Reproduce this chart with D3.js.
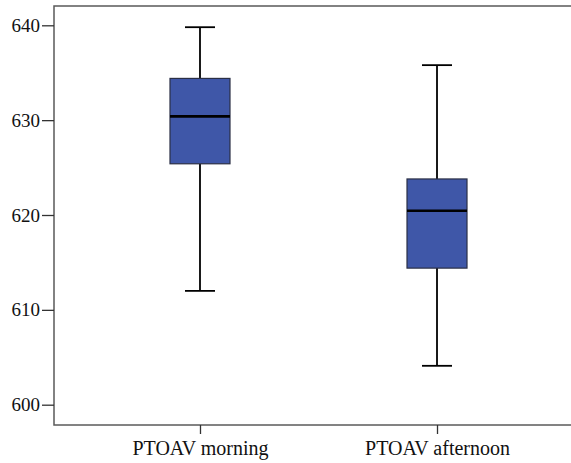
<!DOCTYPE html>
<html>
<head>
<meta charset="utf-8">
<script src="https://cdn.jsdelivr.net/npm/d3@7"></script>
<style>
  html, body { margin: 0; padding: 0; background: #fff; }
  svg { display: block; }
</style>
</head>
<body>
<svg id="chart" width="571" height="463"></svg>
<script>
// ---- data ----
const categories = ["PTOAV morning", "PTOAV afternoon"];
const whiskerLow  = [612.0, 604.1];
const q1          = [625.4, 614.4];
const median      = [630.4, 620.45];
const q3          = [634.4, 623.8];
const whiskerHigh = [639.8, 635.8];
const yTicks = [600, 610, 620, 630, 640];

// ---- layout ----
const mLeft = 54, mTop = 6, mBottom = 425, mRight = 583;
const svg = d3.select("#chart");

const y = d3.scaleLinear().domain([600, 640]).range([404.7, 25.3]);
const x = d3.scalePoint().domain(categories).range([mLeft, mRight]).padding(0.616);

const boxW = 60, capW = 30;
const fontFam = "'Liberation Serif', 'Times New Roman', serif";

// frame
svg.append("rect")
  .attr("x", mLeft).attr("y", mTop)
  .attr("width", mRight - mLeft).attr("height", mBottom - mTop)
  .attr("fill", "none").attr("stroke", "#5a5a5a").attr("stroke-width", 1.5);

// y axis
const yAxis = svg.append("g")
  .attr("transform", `translate(${mLeft},0)`)
  .call(d3.axisLeft(y).tickValues(yTicks).tickSize(12).tickPadding(2).tickFormat(d3.format("d")));
yAxis.select(".domain").remove();
yAxis.selectAll(".tick line").attr("stroke", "#333").attr("stroke-width", 1.3);
yAxis.selectAll(".tick text").attr("fill", "#111")
  .style("font-family", fontFam).style("font-size", "19px");

// x axis
const xAxis = svg.append("g")
  .attr("transform", `translate(0,${mBottom})`)
  .call(d3.axisBottom(x).tickSize(9).tickPadding(7));
xAxis.select(".domain").remove();
xAxis.selectAll(".tick line").attr("stroke", "#333").attr("stroke-width", 1.3);
xAxis.selectAll(".tick text").attr("fill", "#111")
  .style("font-family", fontFam).style("font-size", "20px");

// boxes
const data = categories.map((c, i) => ({
  c, lo: whiskerLow[i], q1: q1[i], med: median[i], q3: q3[i], hi: whiskerHigh[i]
}));

const g = svg.selectAll(".box").data(data).join("g").attr("class", "box");

// whiskers
g.append("line")
  .attr("x1", d => x(d.c)).attr("x2", d => x(d.c))
  .attr("y1", d => y(d.hi)).attr("y2", d => y(d.q3))
  .attr("stroke", "#000").attr("stroke-width", 1.8);
g.append("line")
  .attr("x1", d => x(d.c)).attr("x2", d => x(d.c))
  .attr("y1", d => y(d.q1)).attr("y2", d => y(d.lo))
  .attr("stroke", "#000").attr("stroke-width", 1.8);
// caps
g.append("line")
  .attr("x1", d => x(d.c) - capW / 2).attr("x2", d => x(d.c) + capW / 2)
  .attr("y1", d => y(d.hi)).attr("y2", d => y(d.hi))
  .attr("stroke", "#000").attr("stroke-width", 1.8);
g.append("line")
  .attr("x1", d => x(d.c) - capW / 2).attr("x2", d => x(d.c) + capW / 2)
  .attr("y1", d => y(d.lo)).attr("y2", d => y(d.lo))
  .attr("stroke", "#000").attr("stroke-width", 1.8);
// box
g.append("rect")
  .attr("x", d => x(d.c) - boxW / 2)
  .attr("y", d => y(d.q3))
  .attr("width", boxW)
  .attr("height", d => y(d.q1) - y(d.q3))
  .attr("fill", "#3f57a8").attr("stroke", "#2a2f45").attr("stroke-width", 1.2);
// median
g.append("line")
  .attr("x1", d => x(d.c) - boxW / 2).attr("x2", d => x(d.c) + boxW / 2)
  .attr("y1", d => y(d.med)).attr("y2", d => y(d.med))
  .attr("stroke", "#000").attr("stroke-width", 2.6);
</script>
</body>
</html>
